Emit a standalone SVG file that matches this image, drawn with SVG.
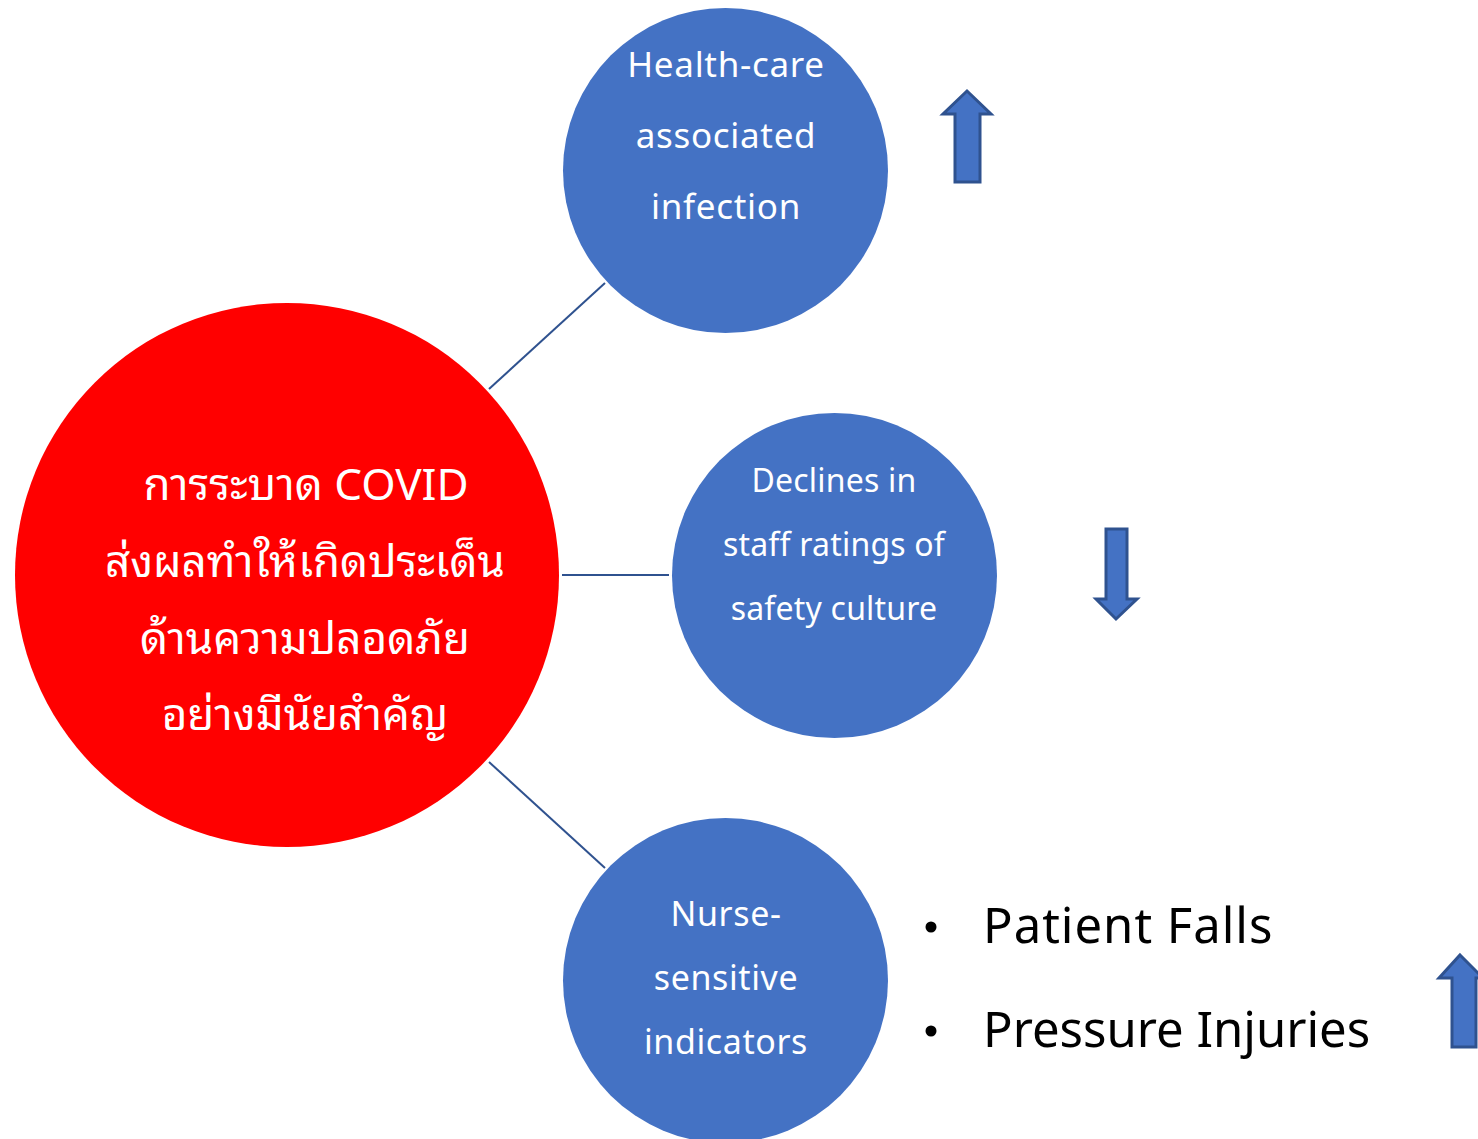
<svg xmlns="http://www.w3.org/2000/svg" width="1478" height="1139" viewBox="0 0 1478 1139">
<style>
.blue{fill:#4472C4}
.conn{stroke:#2F528F;stroke-width:2;fill:none}
.arr{fill:#4472C4;stroke:#2F528F;stroke-width:3;stroke-linejoin:miter}
.t{font-family:"Noto Sans","Noto Sans Thai Looped","Loma","Tahoma","Noto Sans Thai","DejaVu Sans",sans-serif;fill:#fff;text-anchor:middle;dominant-baseline:central}
.b{font-family:"Noto Sans","DejaVu Sans",sans-serif;fill:#000;dominant-baseline:central}
</style>
<rect width="1478" height="1139" fill="#fff"/>
<g id="connectors">
<line class="conn" x1="489" y1="389" x2="605" y2="283"/>
<line class="conn" x1="562" y1="575" x2="669" y2="575"/>
<line class="conn" x1="489" y1="762" x2="605" y2="868"/>
</g>
<g id="covid">
<circle cx="287" cy="575" r="272" fill="#FF0000"/>
<text class="t" x="306" y="483" font-size="44">การระบาด COVID</text>
<text class="t" x="305" y="560" font-size="44">ส่งผลทำให้เกิดประเด็น</text>
<text class="t" x="305" y="637" font-size="44">ด้านความปลอดภัย</text>
<text class="t" x="305" y="713" font-size="44">อย่างมีนัยสำคัญ</text>
</g>
<g id="hai">
<circle class="blue" cx="725.5" cy="170.5" r="162.5"/>
<text class="t" x="726" y="63" font-size="35" letter-spacing="0.7">Health-care</text>
<text class="t" x="726" y="134" font-size="35" letter-spacing="0.7">associated</text>
<text class="t" x="726" y="205" font-size="35" letter-spacing="0.7">infection</text>
</g>
<g id="safety">
<circle class="blue" cx="834.5" cy="575.5" r="162.5"/>
<text class="t" x="834" y="479" font-size="32" letter-spacing="0.2">Declines in</text>
<text class="t" x="834" y="543" font-size="32" letter-spacing="0.2">staff ratings of</text>
<text class="t" x="834" y="607" font-size="32" letter-spacing="0.2">safety culture</text>
</g>
<g id="nurse">
<circle class="blue" cx="725.5" cy="980.5" r="162.5"/>
<text class="t" x="726" y="913" font-size="34" letter-spacing="0.6">Nurse-</text>
<text class="t" x="726" y="977" font-size="34" letter-spacing="0.6">sensitive</text>
<text class="t" x="726" y="1041" font-size="34" letter-spacing="0.6">indicators</text>
</g>
<g id="bullets">
<circle cx="931" cy="927" r="5.5" fill="#000"/>
<text class="b" x="983" y="924" font-size="49" letter-spacing="1">Patient Falls</text>
<circle cx="931" cy="1031" r="5.5" fill="#000"/>
<text class="b" x="983" y="1028" font-size="49">Pressure Injuries</text>
</g>
<g id="arrow-up-1">
<polygon class="arr" points="967,91 991,114 980,114 980,182 955,182 955,114 943,114"/>
</g>
<g id="arrow-down">
<polygon class="arr" points="1106,529 1127,529 1127,599 1137,599 1116,619 1096,599 1106,599"/>
</g>
<g id="arrow-up-2">
<polygon class="arr" points="1460,955 1483,978 1476,978 1476,1047 1452,1047 1452,978 1439,978"/>
</g>
</svg>
